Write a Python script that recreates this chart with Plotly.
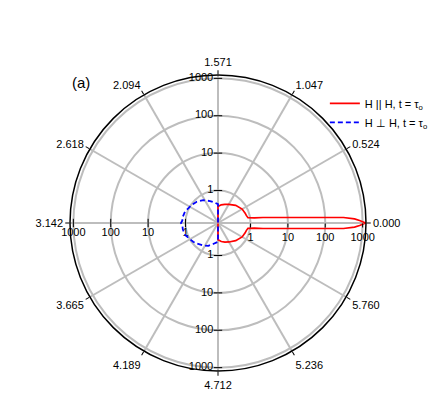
import plotly.graph_objects as go

# angles in degrees, intensities
theta_par = [-91, -90, -80, -70, -60, -45, -30, -20, -15, -10, -8, -7, -6, -5, -4, -3, -2.5, -1.7, -1,
             0, 1, 1.7, 2.5, 3, 4, 5, 6, 7, 8, 10, 15, 20, 30, 45, 60, 70, 80, 90, 91]
r_par = [0.14, 0.38, 0.43, 0.47, 0.52, 0.63, 0.75, 0.80, 0.82, 0.88, 1.3, 2.2, 3.5, 6.5, 17, 86, 310, 610, 830,
         1200, 830, 610, 310, 86, 17, 6.5, 3.5, 2.2, 1.3, 0.88, 0.82, 0.80, 0.75, 0.63, 0.51, 0.46, 0.42, 0.37, 0.14]

theta_perp = [89, 90, 100, 110, 123, 135, 146, 161, 172, 176, 180, 184, 190, 200, 217, 225, 236, 247, 257, 270, 271]
r_perp = [0.14, 0.43, 0.49, 0.57, 0.72, 0.86, 0.97, 1.16, 1.24, 1.22, 1.32, 1.22, 1.22, 1.17, 0.92, 0.82, 0.71,
          0.62, 0.51, 0.43, 0.14]

ang_ticks = [0, 30, 60, 90, 120, 150, 180, 210, 240, 270, 300, 330]
ang_labels = ["0.000", "0.524", "1.047", "1.571", "2.094", "2.618",
              "3.142", "3.665", "4.189", "4.712", "5.236", "5.760"]

r_ticks = [1, 10, 100, 1000]
r_labels = ["1", "10", "100", "1000"]

font = dict(family="Liberation Sans, Arial, sans-serif", size=11, color="black")
grid = "#bdbdbd"

fig = go.Figure()

# extra radial scale labels on the other three half-axes
for ang, pos, sym in [(180, "bottom center", "line-ns"), (90, "middle left", "line-ew"),
                      (270, "middle left", "line-ew")]:
    fig.add_trace(go.Scatterpolar(
        r=r_ticks, theta=[ang] * len(r_ticks),
        mode="markers+text", text=r_labels, textposition=pos,
        textfont=font,
        marker=dict(symbol=sym, size=6, line=dict(color="black", width=1)),
        showlegend=False, hoverinfo="skip",
    ))

fig.add_trace(go.Scatterpolar(
    r=r_par, theta=theta_par, mode="lines",
    line=dict(color="red", width=1.7),
    name="H || H, t = τ<sub>o</sub>",
))
fig.add_trace(go.Scatterpolar(
    r=r_perp, theta=theta_perp, mode="lines",
    line=dict(color="blue", width=1.8, dash="5px,3px"),
    name="H ⊥ H, t = τ<sub>o</sub>",
))

fig.update_layout(
    width=448,
    height=413,
    margin=dict(l=62, r=90, t=67, b=50, autoexpand=False),
    paper_bgcolor="white",
    font=font,
    polar=dict(
        bgcolor="white",
        radialaxis=dict(
            type="log",
            range=[-0.87, 3.09],
            angle=0,
            tickangle=0,
            tickmode="array",
            tickvals=r_ticks,
            ticktext=r_labels,
            ticks="outside",
            ticklen=4,
            tickcolor="black",
            showline=False,
            gridcolor=grid,
            gridwidth=1.5,
            tickfont=font,
        ),
        angularaxis=dict(
            tickmode="array",
            tickvals=ang_ticks,
            ticktext=ang_labels,
            ticks="outside",
            ticklen=4,
            tickcolor="black",
            showline=True,
            linecolor="black",
            linewidth=1.5,
            gridcolor=grid,
            gridwidth=1.5,
            tickfont=font,
        ),
    ),
    legend=dict(
        x=0.861, y=0.953, xanchor="left", yanchor="top",
        bgcolor="rgba(0,0,0,0)", font=font,
        itemwidth=30,
    ),
    annotations=[dict(
        text="(a)", xref="paper", yref="paper", x=0.0, y=0.976,
        xanchor="left", yanchor="middle", showarrow=False,
        font=dict(family="Liberation Sans, Arial, sans-serif", size=15, color="black"),
    )],
)

fig.write_html("out.html")
